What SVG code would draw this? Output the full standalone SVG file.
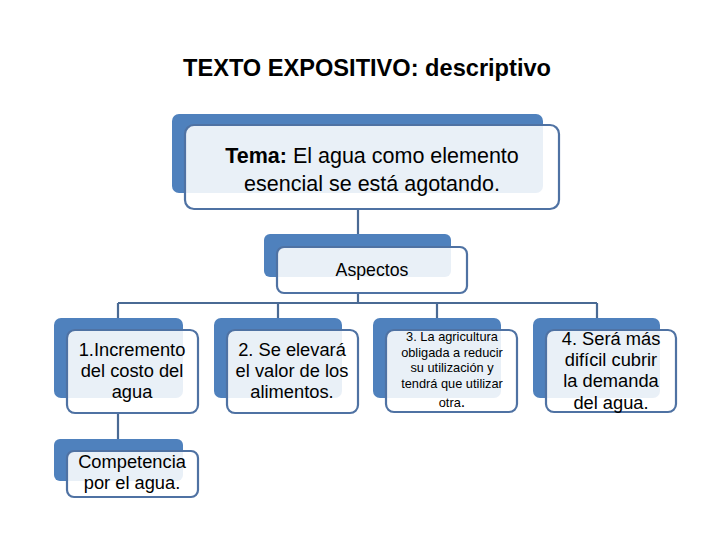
<svg xmlns="http://www.w3.org/2000/svg" width="728" height="546" viewBox="0 0 728 546">
<style>
.back{fill:#4F81BD;}
.front{fill:#FFFFFF;fill-opacity:0.88;stroke:#4F72A3;stroke-width:2.2;}
.conn{fill:none;stroke:#4A6A94;stroke-width:2.2;}
text{font-family:"Liberation Sans",Arial,sans-serif;fill:#000;text-anchor:middle;}
.t18{font-size:18.3px;}
.t13{font-size:12.8px;}
</style>
<rect width="728" height="546" fill="#FFFFFF"/>
<text x="367" y="76" style="font-size:23.6px;font-weight:bold">TEXTO EXPOSITIVO: descriptivo</text>
<g id="connectors">
<path class="conn" d="M358,209 V247"/>
<path class="conn" d="M358,293 V303"/>
<path class="conn" d="M118,303 H597"/>
<path class="conn" d="M118,303 V330 M278,303 V330 M437,303 V330 M597,303 V330"/>
<path class="conn" d="M118,413 V451"/>
</g>
<g id="tema">
<rect class="back" x="172" y="114" width="371" height="79" rx="7"/>
<rect class="front" x="185" y="125" width="374" height="84" rx="9"/>
<text x="372" y="163" style="font-size:21.5px"><tspan font-weight="bold">Tema:</tspan> El agua como elemento</text>
<text x="372" y="191" style="font-size:21.5px">esencial se está agotando.</text>
</g>
<g id="aspectos">
<rect class="back" x="264" y="234" width="187" height="43" rx="6"/>
<rect class="front" x="277" y="247" width="190" height="46" rx="7"/>
<text x="372" y="276" style="font-size:17.7px">Aspectos</text>
</g>
<g id="n1">
<rect class="back" x="54" y="318" width="129" height="80" rx="7"/>
<rect class="front" x="67" y="330" width="131" height="83" rx="8"/>
<text class="t18" x="132" y="356">1.Incremento</text>
<text class="t18" x="132" y="377">del costo del</text>
<text class="t18" x="132" y="398">agua</text>
</g>
<g id="n2">
<rect class="back" x="214" y="318" width="128" height="80" rx="7"/>
<rect class="front" x="227" y="330" width="131" height="83" rx="8"/>
<text class="t18" x="292" y="356">2. Se elevará</text>
<text class="t18" x="292" y="377">el valor de los</text>
<text class="t18" x="292" y="398">alimentos.</text>
</g>
<g id="n3">
<rect class="back" x="373" y="318" width="128" height="80" rx="7"/>
<rect class="front" x="386" y="330" width="131" height="82" rx="8"/>
<text class="t13" x="452" y="341">3. La agricultura</text>
<text class="t13" x="452" y="356.5">obligada a reducir</text>
<text class="t13" x="452" y="372">su utilización y</text>
<text class="t13" x="452" y="387.5">tendrá que utilizar</text>
<text class="t13" x="452" y="407">otra<tspan style="font-size:16px">.</tspan></text>
</g>
<g id="n4">
<rect class="back" x="533" y="318" width="127" height="80" rx="7"/>
<rect class="front" x="546" y="330" width="130" height="82" rx="8"/>
<text class="t18" x="611" y="345">4. Será más</text>
<text class="t18" x="611" y="366">difícil cubrir</text>
<text class="t18" x="611" y="387">la demanda</text>
<text class="t18" x="611" y="409">del agua.</text>
</g>
<g id="n5">
<rect class="back" x="54" y="439" width="129" height="42" rx="6"/>
<rect class="front" x="67" y="451" width="131" height="46" rx="7"/>
<text class="t18" x="132" y="468">Competencia</text>
<text class="t18" x="132" y="489">por el agua.</text>
</g>
</svg>
